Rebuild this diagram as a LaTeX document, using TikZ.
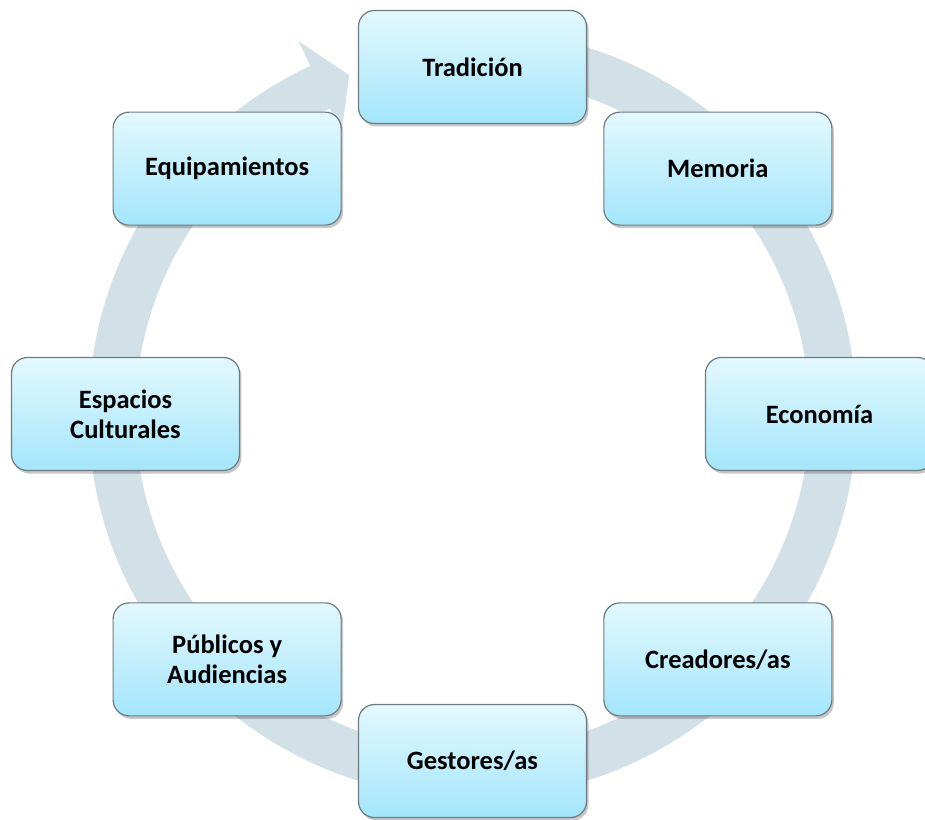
\documentclass[tikz,border=0pt]{standalone}
\usepackage{fontspec}
\setmainfont{Carlito}
\usetikzlibrary{shadows}
\definecolor{celesteA}{HTML}{E3F8FE}
\definecolor{celesteB}{HTML}{A4E6FB}
\definecolor{bordegris}{HTML}{6F7B80}
\definecolor{grisciclo}{HTML}{D2E1E8}
\tikzset{
    etapa/.style={draw=bordegris, rectangle, rounded corners=16pt, minimum width=228pt, minimum height=113pt, inner sep=4pt, align=center, top color=celesteA, bottom color=celesteB, line width=1.2pt, font=\fontsize{26.5}{30}\selectfont\bfseries, drop shadow={shadow xshift=2pt, shadow yshift=-3pt, opacity=0.22, fill=black}},
    ciclo/.style={fill=grisciclo, draw=none}
}
\begin{document}
\begin{tikzpicture}[x=1pt, y=1pt]

        \useasboundingbox (-472.5,-405) rectangle (452.5,414);

        % -----------------------------------------------------------------
        % FLECHA CIRCULAR
        % -----------------------------------------------------------------
        \fill[ciclo] (90:384) arc[start angle=90, end angle=-245, radius=384]
            -- (115:411) -- (110:360.5) -- (115:310) -- (115:337)
            arc[start angle=-245, end angle=90, radius=337] -- cycle;

        % -----------------------------------------------------------------
        % ETAPAS DEL CICLO
        % -----------------------------------------------------------------
        \node[etapa] (tradicion) at (90:347) {Tradición};
        \node[etapa] (memoria) at (45:347) {Memoria};
        \node[etapa] (economia) at (0:347) {Economía};
        \node[etapa] (creadores) at (-45:347) {Creadores/as};
        \node[etapa] (gestores) at (-90:347) {Gestores/as};
        \node[etapa] (publicos) at (-135:347) {Públicos y\\Audiencias};
        \node[etapa] (espacios) at (180:347) {Espacios\\Culturales};
        \node[etapa] (equipamientos) at (135:347) {Equipamientos};

    \end{tikzpicture}
\end{document}
